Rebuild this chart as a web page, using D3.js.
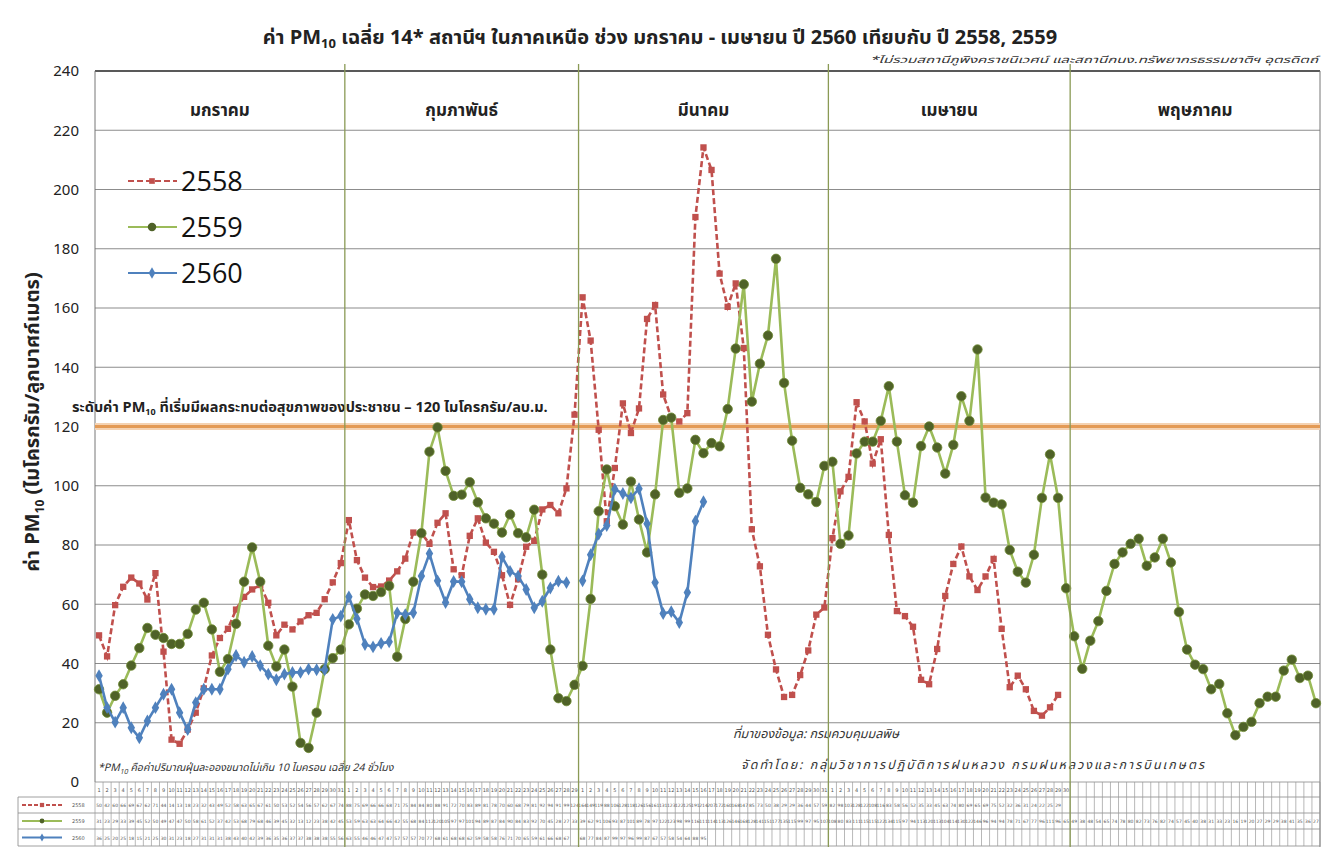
<!DOCTYPE html>
<html>
<head>
<meta charset="utf-8">
<script src="https://cdn.jsdelivr.net/npm/d3@7"></script>
<style>
  body { margin: 0; background: #fff; }
  svg { font-family: "Noto Sans Thai", Tahoma, "Noto Sans", "DejaVu Sans", sans-serif; }
</style>
</head>
<body>
<svg id="chart" width="1322" height="847"></svg>
<script>
// months on the x axis and how many day slots each one has
const months = ["มกราคม", "กุมภาพันธ์", "มีนาคม", "เมษายน", "พฤษภาคม"];
const monthDays = [31, 29, 31, 30, 31];
const yTicks = [0, 20, 40, 60, 80, 100, 120, 140, 160, 180, 200, 220, 240];
const threshold = 120;
const seriesNames = ["2558", "2559", "2560"];

// daily PM10, Jan 1 .. May 31 (152 slots), null = no data
const pm2558 = [
  // Jan
  49.5, 42.4, 59.7, 65.9, 69, 67, 61.6, 70.5, 44, 14.3, 12.9, 17.7, 23.4, 31.6, 42.7, 48.6,
  51.7, 58.2, 62.5, 65, 66.5, 60.5, 49.5, 53.1, 51.5, 54.2, 56.3, 57.1, 61.7, 67.4, 73.9,
  // Feb
  88.4, 74.9, 69, 65.8, 66, 68, 71.1, 75.4, 84.2, 84, 80.4, 87.5, 90.7, 71.8, 69.8, 83.1,
  89, 80.8, 77.7, 69.8, 59.8, 68.4, 79.4, 81.4, 92, 93.5, 90.7, 99.1, 124,
  // Mar
  163.6, 149, 118.9, 88, 106, 127.8, 117.8, 126.1, 156.3, 161, 130.8, 123, 121.7, 124.5, 190.7, 214.2,
  206.6, 171.6, 160.4, 168.3, 146.5, 85.3, 72.8, 49.7, 38, 28.7, 29.4, 36.1, 44.4, 56.5, 58.9,
  // Apr
  82.3, 98.1, 103, 128.2, 121.7, 107.5, 115.7, 83.4, 57.7, 56, 52.4, 34.5, 33, 44.9, 62.8,
  73.6, 79.5, 69.4, 64.8, 69.4, 75.3, 51.7, 32, 35.9, 31.3, 24, 22.4, 25.2, 29.4, null,
  // May
  null, null, null, null, null, null, null, null, null, null, null, null, null, null, null, null,
  null, null, null, null, null, null, null, null, null, null, null, null, null, null, null
];

const pm2559 = [
  // Jan
  31.3, 23.4, 29.1, 33, 39.3, 45.2, 52, 49.7, 48.6, 46.6, 46.6, 50, 58.2, 60.5, 51.5, 37.2,
  41.5, 53.4, 67.6, 79.2, 67.6, 46, 39, 44.7, 32.2, 13.2, 11.5, 23.4, 38.1, 41.8, 44.7,
  // Feb
  53.2, 58.5, 63.3, 62.8, 64.1, 66.2, 42.3, 55, 67.6, 84, 111.5, 119.7, 105, 96.6, 97, 101.2,
  94.4, 89, 87.2, 84.2, 90.3, 84, 82.6, 91.9, 70, 44.7, 28.3, 27.3, 32.8,
  // Mar
  39.2, 61.8, 91.4, 105.5, 93.1, 86.9, 101.4, 88.6, 77.5, 97.1, 122.2, 123, 97.6, 99.1, 115.5, 111,
  114.4, 113.3, 125.9, 146.3, 168, 128.4, 141.2, 150.7, 176.6, 134.7, 115.2, 99.3, 97.1, 94.5, 106.7,
  // Apr
  108.1, 80.4, 83.2, 110.9, 114.9, 114.9, 121.9, 133.6, 114.9, 96.8, 94.3, 113.4, 120, 112.9, 104.1,
  113.8, 130.2, 121.9, 146, 96, 94.3, 93.7, 78.3, 71, 67.3, 76.7, 95.9, 110.6, 95.9, 65.4,
  // May
  49.2, 38.2, 47.7, 54.3, 64.5, 73.6, 77.5, 80.4, 82.1, 73, 75.8, 82.1, 74.1, 57.4, 44.7, 39.6,
  38.1, 31.3, 33.1, 23.2, 15.8, 18.6, 20.3, 26.6, 28.8, 28.8, 37.6, 41.3, 35.1, 35.9, 26.6
];

const pm2560 = [
  // Jan
  35.9, 25.1, 20.2, 25.1, 18.3, 14.9, 20.6, 25.1, 29.6, 31.3, 23.4, 17.7, 26.8, 31.3, 31.3, 31.3,
  38.1, 42.7, 40.4, 42.4, 39.3, 36.4, 34.5, 36.4, 37, 37, 38.1, 37.9, 37.9, 54.9, 56,
  // Feb
  62.5, 55.1, 46.4, 45.6, 46.8, 47.3, 57.1, 56.5, 57.1, 69.5, 77.1, 67.9, 60.6, 67.7, 67.6, 61.7,
  58.8, 58.3, 58.3, 76, 71.1, 69.5, 65, 58.8, 61, 65.5, 67.8, 67.3, null,
  // Mar (to the 16th)
  67.9, 76.7, 83.7, 86.6, 98.8, 97.4, 95.9, 99, 87.2, 67.3, 56.9, 57.5, 53.8, 64, 88, 94.6
];

// ---- layout
const svg = d3.select("#chart");
const plotLeft = 95, plotRight = 1320, plotTop = 71, plotBottom = 782;

// one band per calendar slot
const days = [];
monthDays.forEach((n, m) => {
    for (let d = 1; d <= n; d++) days.push({ key: m + "-" + d, month: m, day: d });
});

const x = d3.scaleBand().domain(days.map(d => d.key)).range([plotLeft, plotRight]);
const y = d3.scaleLinear().domain([0, 240]).range([plotBottom, plotTop]);
const cx = k => x(k) + x.bandwidth() / 2;

const monthStart = monthDays.map((n, m) => x(m + "-1"));

// ---- title
const title = svg.append("text")
    .attr("x", 660).attr("y", 44)
    .attr("text-anchor", "middle")
    .attr("font-size", 20).attr("font-weight", "bold").attr("fill", "#222");
title.append("tspan").text("ค่า PM");
title.append("tspan").attr("font-size", 13).attr("dy", 4).text("10");
title.append("tspan").attr("dy", -4).text(" เฉลี่ย 14* สถานีฯ ในภาคเหนือ ช่วง มกราคม - เมษายน ปี 2560 เทียบกับ ปี 2558, 2559");

svg.append("text")
    .attr("x", 870).attr("y", 63)
    .attr("textLength", 448).attr("lengthAdjust", "spacingAndGlyphs")
    .attr("font-size", 9.5).attr("font-style", "italic").attr("fill", "#333")
    .text("*ไม่รวมสถานีภูพิงคราชนิเวศน์ และสถานีกนง.ทรัพยากรธรรมชาติฯ อุตรดิตถ์");

// ---- grid
svg.append("g")
    .selectAll("line")
    .data(yTicks.filter(t => t > 0 && t < 240))
    .join("line")
    .attr("x1", plotLeft).attr("x2", plotRight)
    .attr("y1", d => y(d)).attr("y2", d => y(d))
    .attr("stroke", "#8c8c8c").attr("stroke-width", 1.2);

svg.append("line")
    .attr("x1", plotLeft).attr("x2", plotRight)
    .attr("y1", y(240)).attr("y2", y(240))
    .attr("stroke", "#222").attr("stroke-width", 1.5);

svg.append("line")
    .attr("x1", plotLeft).attr("x2", plotLeft)
    .attr("y1", plotTop).attr("y2", plotBottom)
    .attr("stroke", "#777");
svg.append("line")
    .attr("x1", plotRight).attr("x2", plotRight)
    .attr("y1", plotTop).attr("y2", 847)
    .attr("stroke", "#777");

// y tick labels
svg.append("g")
    .selectAll("text")
    .data(yTicks)
    .join("text")
    .attr("x", 79).attr("y", d => y(d))
    .attr("dy", "0.35em")
    .attr("text-anchor", "end")
    .attr("font-size", 15).attr("fill", "#222")
    .text(d => d);

// y axis title
const yTitle = svg.append("text")
    .attr("transform", "translate(39,422) rotate(-90)")
    .attr("text-anchor", "middle")
    .attr("font-size", 20).attr("font-weight", "bold").attr("fill", "#222");
yTitle.append("tspan").text("ค่า PM");
yTitle.append("tspan").attr("font-size", 12).attr("dy", 5).text("10");
yTitle.append("tspan").attr("dy", -5).text(" (ไมโครกรัม/ลูกบาศก์เมตร)");

// month names in the top band
svg.append("g")
    .selectAll("text")
    .data(months)
    .join("text")
    .attr("x", (d, i) => (monthStart[i] + (i < 4 ? monthStart[i + 1] : plotRight)) / 2)
    .attr("y", 116)
    .attr("text-anchor", "middle")
    .attr("font-size", 17).attr("font-weight", "bold").attr("fill", "#222")
    .text(d => d);

// ---- threshold line
svg.append("line")
    .attr("x1", plotLeft).attr("x2", plotRight)
    .attr("y1", y(threshold)).attr("y2", y(threshold))
    .attr("stroke", "#f4d2b2").attr("stroke-width", 7);
svg.append("line")
    .attr("x1", plotLeft).attr("x2", plotRight)
    .attr("y1", y(threshold)).attr("y2", y(threshold))
    .attr("stroke", "#e39a55").attr("stroke-width", 3);

const thrLabel = svg.append("text")
    .attr("x", 72).attr("y", 412)
    .attr("font-size", 14.5).attr("font-weight", "bold").attr("fill", "#222");
thrLabel.append("tspan").text("ระดับค่า PM");
thrLabel.append("tspan").attr("font-size", 9).attr("dy", 3).text("10");
thrLabel.append("tspan").attr("dy", -3).text(" ที่เริ่มมีผลกระทบต่อสุขภาพของประชาชน – 120 ไมโครกรัม/ลบ.ม.");

// ---- notes
const note1 = svg.append("text")
    .attr("x", 98).attr("y", 771)
    .attr("font-size", 10.5).attr("font-style", "italic").attr("fill", "#333");
note1.append("tspan").text("*PM");
note1.append("tspan").attr("font-size", 7).attr("dy", 3).text("10");
note1.append("tspan").attr("dy", -3).text(" คือค่าปริมาณฝุ่นละอองขนาดไม่เกิน 10 ไมครอน เฉลี่ย 24 ชั่วโมง");

svg.append("text")
    .attr("x", 733).attr("y", 738)
    .attr("font-size", 12.5).attr("font-style", "italic").attr("fill", "#333")
    .text("ที่มาของข้อมูล: กรมควบคุมมลพิษ");

svg.append("text")
    .attr("x", 741).attr("y", 769)
    .attr("textLength", 463).attr("lengthAdjust", "spacing")
    .attr("font-size", 12.5).attr("font-style", "italic").attr("fill", "#333")
    .text("จัดทำโดย: กลุ่มวิชาการปฏิบัติการฝนหลวง  กรมฝนหลวงและการบินเกษตร");

// ---- series
const styles = [
    { name: seriesNames[0], data: pm2558, color: "#c0504d", dash: "6,3", marker: d3.symbolSquare, size: 40, fill: "#c0504d" },
    { name: seriesNames[1], data: pm2559, color: "#9bbb59", dash: null, marker: d3.symbolCircle, size: 70, fill: "#4f6228" },
    { name: seriesNames[2], data: pm2560, color: "#4f81bd", dash: null, marker: d3.symbolDiamond, size: 48, fill: "#4f81bd" }
];

const line = d3.line()
    .defined(d => d.v != null)
    .x(d => cx(d.key))
    .y(d => y(d.v));

styles.forEach(s => {
    const pts = days.map((d, i) => ({ key: d.key, v: s.data[i] == null ? null : s.data[i] }));
    const g = svg.append("g");
    g.append("path")
        .datum(pts)
        .attr("d", line)
        .attr("fill", "none")
        .attr("stroke", s.color)
        .attr("stroke-width", 2.6)
        .attr("stroke-dasharray", s.dash);
    g.selectAll("path.mk")
        .data(pts.filter(p => p.v != null))
        .join("path")
        .attr("class", "mk")
        .attr("d", d3.symbol().type(s.marker).size(s.size))
        .attr("transform", d => `translate(${cx(d.key)},${y(d.v)})`)
        .attr("fill", s.fill)
        .attr("stroke", s.marker === d3.symbolCircle ? "#6e8a34" : "none")
        .attr("stroke-width", 0.8);
});

// ---- legend inside plot
const legend = svg.append("g");
styles.forEach((s, i) => {
    const ly = 181 + i * 46;
    legend.append("line")
        .attr("x1", 128).attr("x2", 177)
        .attr("y1", ly).attr("y2", ly)
        .attr("stroke", s.color).attr("stroke-width", 2.2)
        .attr("stroke-dasharray", s.dash);
    legend.append("path")
        .attr("d", d3.symbol().type(s.marker).size(s.size * 0.8))
        .attr("transform", `translate(152,${ly})`)
        .attr("fill", s.fill);
    legend.append("text")
        .attr("x", 181).attr("y", ly)
        .attr("dy", "0.36em")
        .attr("font-family", "Open Sans, Noto Sans, sans-serif")
        .attr("font-size", 27).attr("fill", "#111")
        .text(s.name);
});

// ---- data table under the plot
const rowY = [782, 797, 813, 829, 846];
const table = svg.append("g").attr("font-family", "DejaVu Sans, sans-serif");

rowY.forEach((ry, i) => {
    table.append("line")
        .attr("x1", i < 1 ? plotLeft : 18).attr("x2", plotRight)
        .attr("y1", ry).attr("y2", ry)
        .attr("stroke", "#888").attr("stroke-width", 0.8);
});
table.append("line")
    .attr("x1", 18).attr("x2", 18)
    .attr("y1", 797).attr("y2", 846)
    .attr("stroke", "#888").attr("stroke-width", 0.8);

table.selectAll("line.cell")
    .data(days.concat([{ key: null }]))
    .join("line")
    .attr("class", "cell")
    .attr("x1", d => d.key ? x(d.key) : plotRight)
    .attr("x2", d => d.key ? x(d.key) : plotRight)
    .attr("y1", 782).attr("y2", 846)
    .attr("stroke", "#999").attr("stroke-width", 0.7);

// day numbers (May header left empty, as in the original)
table.selectAll("text.hd")
    .data(days.filter(d => d.month < 4))
    .join("text")
    .attr("class", "hd")
    .attr("x", d => cx(d.key)).attr("y", 792)
    .attr("text-anchor", "middle")
    .attr("font-size", 5).attr("fill", "#555")
    .text(d => d.day);

styles.forEach((s, r) => {
    const ry = (rowY[r + 1] + rowY[r + 2]) / 2;
    table.selectAll("text.v" + r)
        .data(days.map((d, i) => ({ key: d.key, v: s.data[i] })).filter(d => d.v != null))
        .join("text")
        .attr("class", "v" + r)
        .attr("x", d => cx(d.key)).attr("y", ry + 2)
        .attr("text-anchor", "middle")
        .attr("font-size", 4.5).attr("fill", "#555")
        .text(d => Math.round(d.v));
    table.append("line")
        .attr("x1", 22).attr("x2", 62)
        .attr("y1", ry).attr("y2", ry)
        .attr("stroke", s.color).attr("stroke-width", 1.8)
        .attr("stroke-dasharray", s.dash ? "4,2" : null);
    table.append("path")
        .attr("d", d3.symbol().type(s.marker).size(18))
        .attr("transform", `translate(42,${ry})`)
        .attr("fill", s.fill);
    table.append("text")
        .attr("x", 72).attr("y", ry + 2)
        .attr("font-size", 5).attr("fill", "#555")
        .text(s.name);
});

// month boundaries run from above the plot down through the table
svg.append("g")
    .selectAll("line")
    .data(monthStart.slice(1))
    .join("line")
    .attr("x1", d => d).attr("x2", d => d)
    .attr("y1", 64).attr("y2", 847)
    .attr("stroke", "#8a9a55").attr("stroke-width", 1.3);
</script>
</body>
</html>
